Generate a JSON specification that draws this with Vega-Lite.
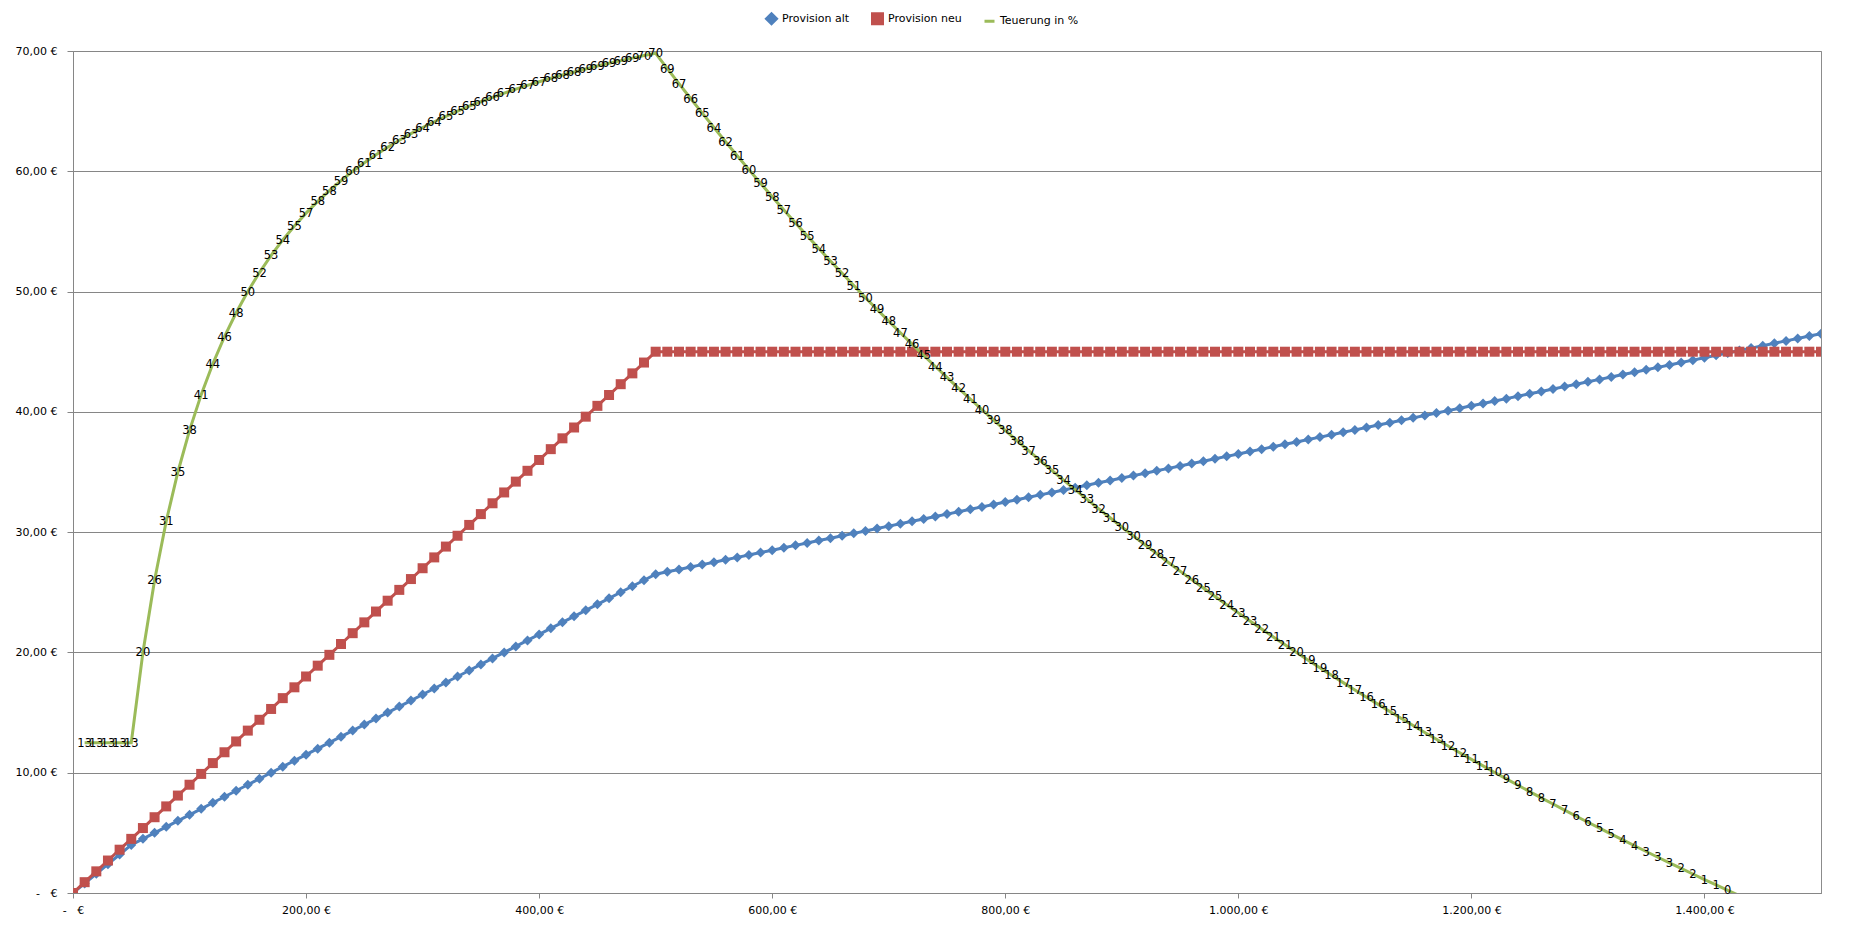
{
  "$schema": "https://vega.github.io/schema/vega-lite/v6.json",
  "width": 1748,
  "height": 842,
  "autosize": {"type": "none"},
  "padding": {"left": 73, "top": 51, "right": 45, "bottom": 36},
  "background": "white",
  "config": {
    "view": {"stroke": "#8c8c8c", "strokeWidth": 1},
    "font": "DejaVu Sans",
    "axis": {
      "labelFont": "DejaVu Sans",
      "labelFontSize": 11,
      "labelColor": "#000000",
      "domainColor": "#868686",
      "tickColor": "#868686",
      "gridColor": "#868686",
      "gridOpacity": 1,
      "title": null
    }
  },
  "data": {
    "values": [
      {"x": 0, "alt": 0, "neu": 0},
      {"x": 10, "alt": 0.8, "neu": 0.9, "teuerung": 12.5},
      {"x": 20, "alt": 1.6, "neu": 1.8, "teuerung": 12.5},
      {"x": 30, "alt": 2.4, "neu": 2.7, "teuerung": 12.5},
      {"x": 40, "alt": 3.2, "neu": 3.6, "teuerung": 12.5},
      {"x": 50, "alt": 4.0, "neu": 4.5, "teuerung": 12.5},
      {"x": 60, "alt": 4.5, "neu": 5.4, "teuerung": 20},
      {"x": 70, "alt": 5.0, "neu": 6.3, "teuerung": 26},
      {"x": 80, "alt": 5.5, "neu": 7.2, "teuerung": 30.91},
      {"x": 90, "alt": 6.0, "neu": 8.1, "teuerung": 35},
      {"x": 100, "alt": 6.5, "neu": 9.0, "teuerung": 38.46},
      {"x": 110, "alt": 7.0, "neu": 9.9, "teuerung": 41.43},
      {"x": 120, "alt": 7.5, "neu": 10.8, "teuerung": 44},
      {"x": 130, "alt": 8.0, "neu": 11.7, "teuerung": 46.25},
      {"x": 140, "alt": 8.5, "neu": 12.6, "teuerung": 48.24},
      {"x": 150, "alt": 9.0, "neu": 13.5, "teuerung": 50},
      {"x": 160, "alt": 9.5, "neu": 14.4, "teuerung": 51.58},
      {"x": 170, "alt": 10.0, "neu": 15.3, "teuerung": 53},
      {"x": 180, "alt": 10.5, "neu": 16.2, "teuerung": 54.29},
      {"x": 190, "alt": 11.0, "neu": 17.1, "teuerung": 55.45},
      {"x": 200, "alt": 11.5, "neu": 18.0, "teuerung": 56.52},
      {"x": 210, "alt": 12.0, "neu": 18.9, "teuerung": 57.5},
      {"x": 220, "alt": 12.5, "neu": 19.8, "teuerung": 58.4},
      {"x": 230, "alt": 13.0, "neu": 20.7, "teuerung": 59.23},
      {"x": 240, "alt": 13.5, "neu": 21.6, "teuerung": 60},
      {"x": 250, "alt": 14.0, "neu": 22.5, "teuerung": 60.71},
      {"x": 260, "alt": 14.5, "neu": 23.4, "teuerung": 61.38},
      {"x": 270, "alt": 15.0, "neu": 24.3, "teuerung": 62},
      {"x": 280, "alt": 15.5, "neu": 25.2, "teuerung": 62.58},
      {"x": 290, "alt": 16.0, "neu": 26.1, "teuerung": 63.13},
      {"x": 300, "alt": 16.5, "neu": 27.0, "teuerung": 63.64},
      {"x": 310, "alt": 17.0, "neu": 27.9, "teuerung": 64.12},
      {"x": 320, "alt": 17.5, "neu": 28.8, "teuerung": 64.57},
      {"x": 330, "alt": 18.0, "neu": 29.7, "teuerung": 65},
      {"x": 340, "alt": 18.5, "neu": 30.6, "teuerung": 65.41},
      {"x": 350, "alt": 19.0, "neu": 31.5, "teuerung": 65.79},
      {"x": 360, "alt": 19.5, "neu": 32.4, "teuerung": 66.15},
      {"x": 370, "alt": 20.0, "neu": 33.3, "teuerung": 66.5},
      {"x": 380, "alt": 20.5, "neu": 34.2, "teuerung": 66.83},
      {"x": 390, "alt": 21.0, "neu": 35.1, "teuerung": 67.14},
      {"x": 400, "alt": 21.5, "neu": 36.0, "teuerung": 67.44},
      {"x": 410, "alt": 22.0, "neu": 36.9, "teuerung": 67.73},
      {"x": 420, "alt": 22.5, "neu": 37.8, "teuerung": 68},
      {"x": 430, "alt": 23.0, "neu": 38.7, "teuerung": 68.26},
      {"x": 440, "alt": 23.5, "neu": 39.6, "teuerung": 68.51},
      {"x": 450, "alt": 24.0, "neu": 40.5, "teuerung": 68.75},
      {"x": 460, "alt": 24.5, "neu": 41.4, "teuerung": 68.98},
      {"x": 470, "alt": 25.0, "neu": 42.3, "teuerung": 69.2},
      {"x": 480, "alt": 25.5, "neu": 43.2, "teuerung": 69.41},
      {"x": 490, "alt": 26.0, "neu": 44.1, "teuerung": 69.62},
      {"x": 500, "alt": 26.5, "neu": 45, "teuerung": 69.81},
      {"x": 510, "alt": 26.7, "neu": 45, "teuerung": 68.54},
      {"x": 520, "alt": 26.9, "neu": 45, "teuerung": 67.29},
      {"x": 530, "alt": 27.1, "neu": 45, "teuerung": 66.05},
      {"x": 540, "alt": 27.3, "neu": 45, "teuerung": 64.84},
      {"x": 550, "alt": 27.5, "neu": 45, "teuerung": 63.64},
      {"x": 560, "alt": 27.7, "neu": 45, "teuerung": 62.45},
      {"x": 570, "alt": 27.9, "neu": 45, "teuerung": 61.29},
      {"x": 580, "alt": 28.1, "neu": 45, "teuerung": 60.14},
      {"x": 590, "alt": 28.3, "neu": 45, "teuerung": 59.01},
      {"x": 600, "alt": 28.5, "neu": 45, "teuerung": 57.89},
      {"x": 610, "alt": 28.7, "neu": 45, "teuerung": 56.79},
      {"x": 620, "alt": 28.9, "neu": 45, "teuerung": 55.71},
      {"x": 630, "alt": 29.1, "neu": 45, "teuerung": 54.64},
      {"x": 640, "alt": 29.3, "neu": 45, "teuerung": 53.58},
      {"x": 650, "alt": 29.5, "neu": 45, "teuerung": 52.54},
      {"x": 660, "alt": 29.7, "neu": 45, "teuerung": 51.52},
      {"x": 670, "alt": 29.9, "neu": 45, "teuerung": 50.5},
      {"x": 680, "alt": 30.1, "neu": 45, "teuerung": 49.5},
      {"x": 690, "alt": 30.3, "neu": 45, "teuerung": 48.51},
      {"x": 700, "alt": 30.5, "neu": 45, "teuerung": 47.54},
      {"x": 710, "alt": 30.7, "neu": 45, "teuerung": 46.58},
      {"x": 720, "alt": 30.9, "neu": 45, "teuerung": 45.63},
      {"x": 730, "alt": 31.1, "neu": 45, "teuerung": 44.69},
      {"x": 740, "alt": 31.3, "neu": 45, "teuerung": 43.77},
      {"x": 750, "alt": 31.5, "neu": 45, "teuerung": 42.86},
      {"x": 760, "alt": 31.7, "neu": 45, "teuerung": 41.96},
      {"x": 770, "alt": 31.9, "neu": 45, "teuerung": 41.07},
      {"x": 780, "alt": 32.1, "neu": 45, "teuerung": 40.19},
      {"x": 790, "alt": 32.3, "neu": 45, "teuerung": 39.32},
      {"x": 800, "alt": 32.5, "neu": 45, "teuerung": 38.46},
      {"x": 810, "alt": 32.7, "neu": 45, "teuerung": 37.61},
      {"x": 820, "alt": 32.9, "neu": 45, "teuerung": 36.78},
      {"x": 830, "alt": 33.1, "neu": 45, "teuerung": 35.95},
      {"x": 840, "alt": 33.3, "neu": 45, "teuerung": 35.14},
      {"x": 850, "alt": 33.5, "neu": 45, "teuerung": 34.33},
      {"x": 860, "alt": 33.7, "neu": 45, "teuerung": 33.53},
      {"x": 870, "alt": 33.9, "neu": 45, "teuerung": 32.74},
      {"x": 880, "alt": 34.1, "neu": 45, "teuerung": 31.96},
      {"x": 890, "alt": 34.3, "neu": 45, "teuerung": 31.2},
      {"x": 900, "alt": 34.5, "neu": 45, "teuerung": 30.43},
      {"x": 910, "alt": 34.7, "neu": 45, "teuerung": 29.68},
      {"x": 920, "alt": 34.9, "neu": 45, "teuerung": 28.94},
      {"x": 930, "alt": 35.1, "neu": 45, "teuerung": 28.21},
      {"x": 940, "alt": 35.3, "neu": 45, "teuerung": 27.48},
      {"x": 950, "alt": 35.5, "neu": 45, "teuerung": 26.76},
      {"x": 960, "alt": 35.7, "neu": 45, "teuerung": 26.05},
      {"x": 970, "alt": 35.9, "neu": 45, "teuerung": 25.35},
      {"x": 980, "alt": 36.1, "neu": 45, "teuerung": 24.65},
      {"x": 990, "alt": 36.3, "neu": 45, "teuerung": 23.97},
      {"x": 1000, "alt": 36.5, "neu": 45, "teuerung": 23.29},
      {"x": 1010, "alt": 36.7, "neu": 45, "teuerung": 22.62},
      {"x": 1020, "alt": 36.9, "neu": 45, "teuerung": 21.95},
      {"x": 1030, "alt": 37.1, "neu": 45, "teuerung": 21.29},
      {"x": 1040, "alt": 37.3, "neu": 45, "teuerung": 20.64},
      {"x": 1050, "alt": 37.5, "neu": 45, "teuerung": 20},
      {"x": 1060, "alt": 37.7, "neu": 45, "teuerung": 19.36},
      {"x": 1070, "alt": 37.9, "neu": 45, "teuerung": 18.73},
      {"x": 1080, "alt": 38.1, "neu": 45, "teuerung": 18.11},
      {"x": 1090, "alt": 38.3, "neu": 45, "teuerung": 17.49},
      {"x": 1100, "alt": 38.5, "neu": 45, "teuerung": 16.88},
      {"x": 1110, "alt": 38.7, "neu": 45, "teuerung": 16.28},
      {"x": 1120, "alt": 38.9, "neu": 45, "teuerung": 15.68},
      {"x": 1130, "alt": 39.1, "neu": 45, "teuerung": 15.09},
      {"x": 1140, "alt": 39.3, "neu": 45, "teuerung": 14.5},
      {"x": 1150, "alt": 39.5, "neu": 45, "teuerung": 13.92},
      {"x": 1160, "alt": 39.7, "neu": 45, "teuerung": 13.35},
      {"x": 1170, "alt": 39.9, "neu": 45, "teuerung": 12.78},
      {"x": 1180, "alt": 40.1, "neu": 45, "teuerung": 12.22},
      {"x": 1190, "alt": 40.3, "neu": 45, "teuerung": 11.66},
      {"x": 1200, "alt": 40.5, "neu": 45, "teuerung": 11.11},
      {"x": 1210, "alt": 40.7, "neu": 45, "teuerung": 10.57},
      {"x": 1220, "alt": 40.9, "neu": 45, "teuerung": 10.02},
      {"x": 1230, "alt": 41.1, "neu": 45, "teuerung": 9.49},
      {"x": 1240, "alt": 41.3, "neu": 45, "teuerung": 8.96},
      {"x": 1250, "alt": 41.5, "neu": 45, "teuerung": 8.43},
      {"x": 1260, "alt": 41.7, "neu": 45, "teuerung": 7.91},
      {"x": 1270, "alt": 41.9, "neu": 45, "teuerung": 7.4},
      {"x": 1280, "alt": 42.1, "neu": 45, "teuerung": 6.89},
      {"x": 1290, "alt": 42.3, "neu": 45, "teuerung": 6.38},
      {"x": 1300, "alt": 42.5, "neu": 45, "teuerung": 5.88},
      {"x": 1310, "alt": 42.7, "neu": 45, "teuerung": 5.39},
      {"x": 1320, "alt": 42.9, "neu": 45, "teuerung": 4.9},
      {"x": 1330, "alt": 43.1, "neu": 45, "teuerung": 4.41},
      {"x": 1340, "alt": 43.3, "neu": 45, "teuerung": 3.93},
      {"x": 1350, "alt": 43.5, "neu": 45, "teuerung": 3.45},
      {"x": 1360, "alt": 43.7, "neu": 45, "teuerung": 2.97},
      {"x": 1370, "alt": 43.9, "neu": 45, "teuerung": 2.51},
      {"x": 1380, "alt": 44.1, "neu": 45, "teuerung": 2.04},
      {"x": 1390, "alt": 44.3, "neu": 45, "teuerung": 1.58},
      {"x": 1400, "alt": 44.5, "neu": 45, "teuerung": 1.12},
      {"x": 1410, "alt": 44.7, "neu": 45, "teuerung": 0.67},
      {"x": 1420, "alt": 44.9, "neu": 45, "teuerung": 0.22},
      {"x": 1430, "alt": 45.1, "neu": 45, "teuerung": -0.22},
      {"x": 1440, "alt": 45.3, "neu": 45, "teuerung": -0.66},
      {"x": 1450, "alt": 45.5, "neu": 45, "teuerung": -1.1},
      {"x": 1460, "alt": 45.7, "neu": 45, "teuerung": -1.53},
      {"x": 1470, "alt": 45.9, "neu": 45, "teuerung": -1.96},
      {"x": 1480, "alt": 46.1, "neu": 45, "teuerung": -2.39},
      {"x": 1490, "alt": 46.3, "neu": 45, "teuerung": -2.81},
      {"x": 1500, "alt": 46.5, "neu": 45, "teuerung": -3.23}
    ]
  },
  "transform": [{"fold": ["alt", "neu", "teuerung"], "as": ["series", "value"]}],
  "encoding": {
    "x": {
      "field": "x",
      "type": "quantitative",
      "scale": {"domain": [0, 1500], "nice": false, "zero": true},
      "axis": {
        "values": [0, 200, 400, 600, 800, 1000, 1200, 1400],
        "grid": false,
        "tickSize": 5,
        "labelPadding": 6,
        "labelFlush": false,
        "labelExpr": "datum.value == 0 ? '-\u00a0\u00a0\u00a0€' : replace(replace(replace(format(datum.value, ',.2f'), ',', '_'), '.', ','), '_', '.') + '\u00a0€'"
      }
    },
    "y": {
      "field": "value",
      "type": "quantitative",
      "scale": {"domain": [0, 70], "nice": false},
      "axis": {
        "values": [0, 10, 20, 30, 40, 50, 60, 70],
        "grid": true,
        "tickSize": 6,
        "labelPadding": 10,
        "labelExpr": "datum.value == 0 ? '-\u00a0\u00a0\u00a0€' : replace(replace(replace(format(datum.value, ',.2f'), ',', '_'), '.', ','), '_', '.') + '\u00a0€'"
      }
    }
  },
  "layer": [
    {
      "transform": [{"filter": "datum.series != 'teuerung'"}],
      "mark": {"type": "line", "strokeWidth": 3, "clip": true},
      "encoding": {
        "color": {
          "field": "series",
          "type": "nominal",
          "scale": {"domain": ["alt", "neu", "teuerung"], "range": ["#4F81BD", "#C0504D", "#9BBB59"]},
          "legend": {
            "title": null,
            "orient": "none",
            "legendX": 692,
            "legendY": -39,
            "direction": "horizontal",
            "labelFontSize": 11,
            "labelColor": "#000000",
            "symbolSize": 100,
            "symbolStrokeWidth": 3,
            "columnPadding": 16,
            "labelExpr": "datum.label == 'alt' ? 'Provision alt' : datum.label == 'neu' ? 'Provision neu' : 'Teuerung in %'"
          }
        }
      }
    },
    {
      "transform": [{"filter": "datum.series != 'teuerung'"}],
      "mark": {"type": "point", "filled": true, "size": 100, "opacity": 1, "clip": true},
      "encoding": {
        "color": {"field": "series", "type": "nominal"},
        "shape": {
          "field": "series",
          "type": "nominal",
          "scale": {"domain": ["alt", "neu", "teuerung"], "range": ["diamond", "square", "stroke"]},
          "legend": {
            "title": null,
            "orient": "none",
            "legendX": 692,
            "legendY": -39,
            "direction": "horizontal",
            "labelFontSize": 11,
            "labelColor": "#000000",
            "symbolSize": 100,
            "symbolStrokeWidth": 3,
            "columnPadding": 16,
            "labelExpr": "datum.label == 'alt' ? 'Provision alt' : datum.label == 'neu' ? 'Provision neu' : 'Teuerung in %'"
          }
        }
      }
    },
    {
      "transform": [{"filter": "datum.series == 'teuerung'"}],
      "mark": {"type": "line", "strokeWidth": 3, "clip": true},
      "encoding": {"color": {"field": "series", "type": "nominal"}}
    },
    {
      "transform": [{"filter": "datum.series == 'teuerung' && isValid(datum.value) && datum.value >= 0"}],
      "mark": {"type": "text", "fontSize": 11.5, "font": "DejaVu Sans", "color": "#000000", "align": "center", "baseline": "middle", "dy": 1},
      "encoding": {"text": {"field": "value", "type": "quantitative", "format": ".0f"}}
    }
  ]
}
